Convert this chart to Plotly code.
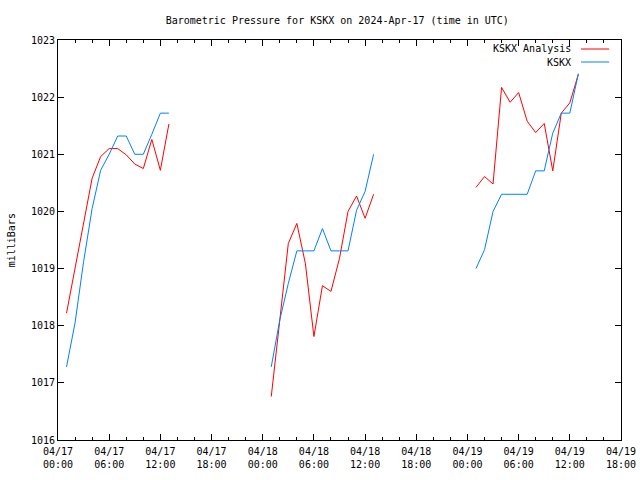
import plotly.graph_objects as go

# ---- data (hourly, UTC) ----
days = ["2024-04-17", "2024-04-18", "2024-04-19"]
hours = list(range(1, 14))

analysis_d1 = [1018.22, 1019.0, 1019.79, 1020.58, 1020.96, 1021.10, 1021.10, 1020.99, 1020.83, 1020.75, 1021.26, 1020.72, 1021.53]
analysis_d2 = [1016.76, 1018.10, 1019.44, 1019.79, 1019.09, 1017.81, 1018.70, 1018.60, 1019.18, 1020.00, 1020.27, 1019.88, 1020.30]
analysis_d3 = [1020.42, 1020.61, 1020.48, 1022.17, 1021.91, 1022.08, 1021.58, 1021.38, 1021.54, 1020.71, 1021.72, 1021.90, 1022.40]

obs_d1 = [1017.28, 1018.05, 1019.12, 1020.05, 1020.72, 1021.00, 1021.32, 1021.32, 1021.00, 1021.00, 1021.35, 1021.72, 1021.72]
obs_d2 = [1017.28, 1018.10, 1018.74, 1019.31, 1019.31, 1019.31, 1019.70, 1019.31, 1019.31, 1019.31, 1020.02, 1020.35, 1021.00]
obs_d3 = [1019.00, 1019.33, 1020.00, 1020.30, 1020.30, 1020.30, 1020.30, 1020.71, 1020.71, 1021.37, 1021.72, 1021.72, 1022.41]

x_range = ["2024-04-17 00:00", "2024-04-19 18:00"]
y_range = [1016, 1023]


def build(series_list):
    xs, ys = [], []
    for day, vals in zip(days, series_list):
        for h, v in zip(hours, vals):
            xs.append(f"{day} {h:02d}:00")
            ys.append(v)
        xs.append(None)
        ys.append(None)
    return xs, ys


RED = "#ff0000"
BLUE = "#0080ff"
FONT = "DejaVu Sans Mono"

xa, ya = build([analysis_d1, analysis_d2, analysis_d3])
xo, yo = build([obs_d1, obs_d2, obs_d3])

fig = go.Figure()
fig.add_trace(go.Scatter(x=xa, y=ya, mode="lines", name="KSKX Analysis",
                         line=dict(color=RED, width=1), connectgaps=False))
fig.add_trace(go.Scatter(x=xo, y=yo, mode="lines", name="KSKX",
                         line=dict(color=BLUE, width=1), connectgaps=False))

fig.update_layout(
    width=640, height=480,
    margin=dict(l=58, r=19, t=40, b=40, autoexpand=False),
    paper_bgcolor="white", plot_bgcolor="white",
    showlegend=False,
    font=dict(family=FONT, size=10, color="black"),
    title=dict(text="Barometric Pressure for KSKX on 2024-Apr-17 (time in UTC)",
               x=0.527, xanchor="center", y=0.958, yanchor="middle",
               font=dict(family=FONT, size=10, color="black")),
)

fig.update_xaxes(
    type="date", range=x_range, automargin=False,
    dtick=6 * 3600 * 1000, tick0="2024-04-17 00:00",
    tickformat="%m/%d<br>%H:%M",
    ticks="inside", ticklen=6, tickcolor="black",
    ticklabelstandoff=2,
    showline=True, linecolor="black", linewidth=1, mirror="ticks",
    showgrid=False, zeroline=False,
    minor=dict(dtick=2 * 3600 * 1000, ticks="inside", ticklen=3, tickcolor="black", showgrid=False),
    tickfont=dict(family=FONT, size=10, color="black"),
)
fig.update_yaxes(
    range=y_range, dtick=1, tickformat="d", automargin=False,
    ticks="inside", ticklen=6, tickcolor="black",
    showline=True, linecolor="black", linewidth=1, mirror="ticks",
    showgrid=False, zeroline=False,
    tickfont=dict(family=FONT, size=10, color="black"),
)

# y-axis label
fig.add_annotation(x=-0.083, y=0.5, xref="paper", yref="paper", text="milliBars",
                   textangle=-90, showarrow=False, xanchor="center", yanchor="middle",
                   font=dict(family=FONT, size=10, color="black"))

# legend drawn gnuplot-style (text right-aligned, sample line to the right)
legend_rows = [("KSKX Analysis", RED, 0.9775), ("KSKX", BLUE, 0.945)]
for label, col, yp in legend_rows:
    fig.add_annotation(x=0.9147, y=yp, xref="paper", yref="paper", text=label,
                       showarrow=False, xanchor="right", yanchor="middle",
                       font=dict(family=FONT, size=10, color="black"))
    fig.add_shape(type="line", xref="paper", yref="paper", x0=0.929, x1=0.979,
                  y0=yp, y1=yp, line=dict(color=col, width=1))

fig.write_html("out.html",
               config={"displayModeBar": False},
               post_script="document.body.style.margin='0';document.body.style.overflow='hidden';")
